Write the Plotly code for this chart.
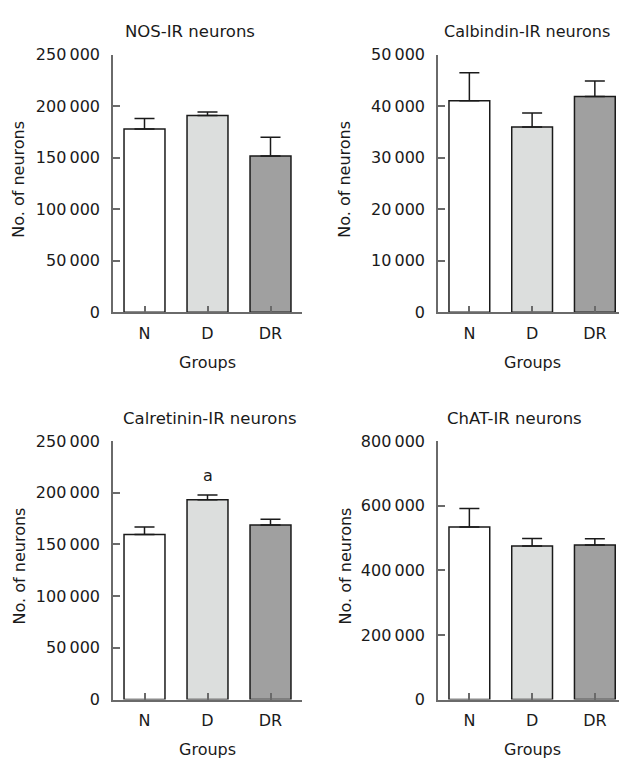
import plotly.graph_objects as go

# ---------------- data ----------------
groups = ["N", "D", "DR"]

nos_mean = [177900, 191200, 151700]
nos_err = [10200, 3200, 18300]

calb_mean = [41100, 36000, 41900]
calb_err = [5400, 2700, 3000]

calr_mean = [159500, 193300, 168700]
calr_err = [7300, 4400, 5600]

chat_mean = [533800, 475300, 478300]
chat_err = [57500, 23200, 19200]

panel_titles = ["NOS-IR neurons", "Calbindin-IR neurons",
                "Calretinin-IR neurons", "ChAT-IR neurons"]
y_max = [250000, 50000, 250000, 800000]
y_step = [50000, 10000, 50000, 200000]

sig_label = "a"
sig_label_y = 217000  # Calretinin panel, group D

bar_colors = ["#ffffff", "#dcdedd", "#a0a0a0"]

# ---------------- layout helpers ----------------
W, H = 619, 769
FONT = "DejaVu Sans"
AX_COLOR = "#6a6a6a"
DARK = "#1a1a1a"


def px_x(p):
    return p / W


def px_y(p):
    return 1 - p / H


# pixel boxes: (x0, x1, ytop, ybottom, xrange_end)
boxes = [
    (113, 302, 47, 311, 2.5),
    (438, 619, 47, 311, 2.385),
    (113, 302, 443, 708, 2.5),
    (438, 619, 443, 708, 2.385),
]
title_pos = [(190, 23), (527, 23), (210, 420), (514, 420)]
title_size = [16.5, 16, 16.5, 16.5]
ytitle_x = [19, 345, 19, 345]
groups_x = [207, 532, 207, 532]

means = [nos_mean, calb_mean, calr_mean, chat_mean]
errs = [nos_err, calb_err, calr_err, chat_err]

fig = go.Figure()
annotations = []

for i in range(4):
    n = "" if i == 0 else str(i + 1)
    fig.add_trace(go.Bar(
        x=list(range(len(groups))), y=means[i],
        marker=dict(color=bar_colors, line=dict(color=DARK, width=1.5)),
        width=0.65,
        error_y=dict(type="data", array=errs[i], arrayminus=[0] * 3,
                     symmetric=False, color=DARK, thickness=1.5, width=10),
        xaxis="x" + n, yaxis="y" + n, showlegend=False,
    ))
    x0, x1, yt, yb, xend = boxes[i]
    tv = list(range(0, y_max[i] + 1, y_step[i]))
    tt = [f"{v:,}".replace(",", "\u2009") for v in tv]
    fig.update_layout(**{
        "xaxis" + n: dict(
            domain=[px_x(x0), px_x(x1)], range=[-0.5, xend],
            anchor="y" + n, tickvals=[0, 1, 2], ticktext=groups,
            showline=True, linecolor=AX_COLOR, linewidth=1.5,
            ticks="inside", ticklen=7, tickcolor=AX_COLOR, tickwidth=1.5,
            showgrid=False, zeroline=False, ticklabelstandoff=6,
            tickfont=dict(family=FONT, size=16, color=DARK),
            fixedrange=True,
        ),
        "yaxis" + n: dict(
            domain=[px_y(yb), px_y(yt)], range=[0, y_max[i]],
            anchor="x" + n, tickvals=tv, ticktext=tt,
            showline=True, linecolor=AX_COLOR, linewidth=1.5,
            ticks="inside", ticklen=7, tickcolor=AX_COLOR, tickwidth=1.5,
            showgrid=False, zeroline=False, ticklabelstandoff=8,
            tickfont=dict(family=FONT, size=16, color=DARK),
            fixedrange=True,
        ),
    })
    tx, ty = title_pos[i]
    annotations.append(dict(
        text=panel_titles[i], x=px_x(tx), y=px_y(ty), xref="paper", yref="paper",
        showarrow=False, xanchor="center", yanchor="middle",
        font=dict(family=FONT, size=title_size[i], color=DARK)))
    annotations.append(dict(
        text="No. of neurons", x=px_x(ytitle_x[i]), y=px_y((yt + yb) / 2 - 4),
        xref="paper", yref="paper", textangle=-90,
        showarrow=False, xanchor="center", yanchor="middle",
        font=dict(family=FONT, size=16, color=DARK)))
    annotations.append(dict(
        text="Groups", x=px_x(groups_x[i]),
        y=px_y(yb + 51), xref="paper", yref="paper",
        showarrow=False, xanchor="center", yanchor="middle",
        font=dict(family=FONT, size=16, color=DARK)))

annotations.append(dict(
    text=sig_label, x=1, y=sig_label_y, xref="x3", yref="y3",
    showarrow=False, xanchor="center", yanchor="middle",
    font=dict(family=FONT, size=16, color=DARK)))

fig.update_layout(
    width=W, height=H, margin=dict(l=0, r=0, t=0, b=0),
    paper_bgcolor="white", plot_bgcolor="white",
    annotations=annotations, bargap=0.35,
)

fig.write_html("out.html")
